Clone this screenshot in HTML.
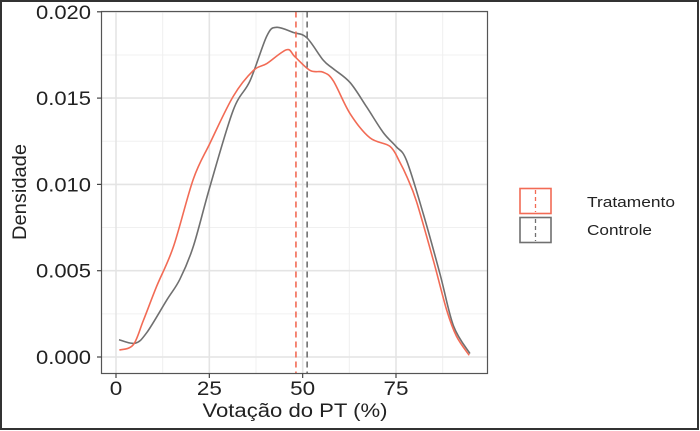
<!DOCTYPE html>
<html><head><meta charset="utf-8">
<style>
html,body{margin:0;padding:0;background:#fff;}
svg{display:block;font-family:"Liberation Sans",Arial,sans-serif;}
</style></head>
<body>
<svg id="chart" width="700" height="431" viewBox="0 0 700 431">
<rect x="1" y="1" width="697" height="428" fill="#fff" stroke="#333" stroke-width="2"/>
<g id="grid"></g>
<g id="series"></g>
<rect x="101.5" y="11.5" width="386" height="362" fill="none" stroke="#555" stroke-width="1.2"/>
<g id="axes"></g>
<text x="295" y="417" font-size="19" text-anchor="middle" fill="#222" textLength="185" lengthAdjust="spacingAndGlyphs">Votação do PT (%)</text>
<text transform="translate(26,192) rotate(-90)" font-size="19" text-anchor="middle" fill="#222" textLength="96" lengthAdjust="spacingAndGlyphs">Densidade</text>
<g>
 <g>
  <rect x="520" y="188.5" width="31" height="25" fill="#fff" stroke="#F26B55" stroke-width="1.6"/>
  <line x1="535.5" y1="190" x2="535.5" y2="212" stroke="#F26B55" stroke-width="1.3" stroke-dasharray="4,3"/>
  <text x="587" y="207" font-size="15" fill="#222" textLength="88" lengthAdjust="spacingAndGlyphs">Tratamento</text>
 </g>
 <g>
  <rect x="520" y="217.5" width="31" height="25" fill="#fff" stroke="#707070" stroke-width="1.6"/>
  <line x1="535.5" y1="219" x2="535.5" y2="241" stroke="#707070" stroke-width="1.3" stroke-dasharray="4,3"/>
  <text x="587" y="235" font-size="15" fill="#222" textLength="65" lengthAdjust="spacingAndGlyphs">Controle</text>
 </g>
</g>
</svg>
<script>
const xTicks=[0,25,50,75];
const xMinor=[12.5,37.5,62.5,87.5];
const yTicks=[0,0.005,0.010,0.015,0.020];
const yTickLabels=["0.000","0.005","0.010","0.015","0.020"];
const yMinor=[0.0025,0.0075,0.0125,0.0175];
const tratX=[0.9,4.6,7.3,10.9,15.4,20.7,25.2,31.4,36.8,40.4,45.7,47.9,52,55.5,58.2,62.7,68,73.4,76,78,80.5,85,88.6,91.2,94.6];
const tratY=[0.0004,0.0007,0.0021,0.0041,0.0064,0.0103,0.0124,0.0151,0.0166,0.0170,0.0178,0.0174,0.0166,0.0165,0.0160,0.0141,0.0127,0.0122,0.0113,0.0104,0.0090,0.0056,0.0027,0.0012,0.0001];
const ctrlX=[0.8,5.1,8.2,13.6,17.1,20.7,25.2,31.4,35.9,40.4,43,47.5,51.1,55.5,58.2,62.7,67.1,71.6,75,77.8,82.3,86.8,90.4,94.8];
const ctrlY=[0.0010,0.0008,0.0014,0.0033,0.0045,0.0064,0.0099,0.0143,0.0160,0.0186,0.0191,0.0188,0.0185,0.0172,0.0167,0.0159,0.0145,0.0130,0.0122,0.0114,0.0083,0.0048,0.0018,0.0002];
const means=[48.2,51.2];
const colors=["#F26B55","#707070"];
const names=["tratamento","controle"];

const sx=v=>116+v*3.7333;
const sy=v=>357-v/0.005*86.3;
const NS="http://www.w3.org/2000/svg";
function mk(tag,attrs,parent){const e=document.createElementNS(NS,tag);for(const k in attrs)e.setAttribute(k,attrs[k]);parent.appendChild(e);return e;}
const grid=document.getElementById('grid'),axes=document.getElementById('axes'),series=document.getElementById('series');
xMinor.forEach(v=>{const l=mk('line',{x1:sx(v),x2:sx(v),y1:11.5,y2:373.5,stroke:'#f0f0f0','stroke-width':1},grid);

});
yMinor.forEach(v=>{const l=mk('line',{x1:101.5,x2:487.5,y1:sy(v),y2:sy(v),stroke:'#f0f0f0','stroke-width':1},grid);

});
xTicks.forEach(v=>{const l=mk('line',{x1:sx(v),x2:sx(v),y1:11.5,y2:373.5,stroke:'#e4e4e4','stroke-width':1.6},grid);


const t=mk('line',{x1:sx(v),x2:sx(v),y1:373.5,y2:378,stroke:'#444','stroke-width':1.2},axes);


const s=String(v);
const tx=mk('text',{x:sx(v),y:395,'font-size':19,'text-anchor':'middle',fill:'#222',textLength:s.length*12.5,lengthAdjust:'spacingAndGlyphs'},axes);tx.textContent=s;

});
yTicks.forEach((v,i)=>{const l=mk('line',{x1:101.5,x2:487.5,y1:sy(v),y2:sy(v),stroke:'#e4e4e4','stroke-width':1.6},grid);


const t=mk('line',{x1:97,x2:101.5,y1:sy(v),y2:sy(v),stroke:'#444','stroke-width':1.2},axes);


const tx=mk('text',{x:36,y:sy(v)+7,'font-size':19,'text-anchor':'start',fill:'#222',textLength:55,lengthAdjust:'spacingAndGlyphs'},axes);tx.textContent=yTickLabels[i];

});
function smooth(xs,ys){const p=xs.map((x,i)=>[sx(x),sy(ys[i])]);let d='M'+p[0][0]+','+p[0][1];
for(let i=0;i<p.length-1;i++){const p0=p[i-1]||p[i],p1=p[i],p2=p[i+1],p3=p[i+2]||p2;
d+=' C'+(p1[0]+(p2[0]-p0[0])/6)+','+(p1[1]+(p2[1]-p0[1])/6)+' '+(p2[0]-(p3[0]-p1[0])/6)+','+(p2[1]-(p3[1]-p1[1])/6)+' '+p2[0]+','+p2[1];}return d;}
[[ctrlX,ctrlY,1],[tratX,tratY,0]].forEach(([xs,ys,k])=>{const e=mk('path',{d:smooth(xs,ys),fill:'none',stroke:colors[k],'stroke-width':1.6},series);

});
means.forEach((m,k)=>{const e=mk('line',{x1:sx(m),x2:sx(m),y1:11.5,y2:373.5,stroke:colors[k],'stroke-width':1.6,'stroke-dasharray':'6,4'},series);

});
</script>
</body></html>
